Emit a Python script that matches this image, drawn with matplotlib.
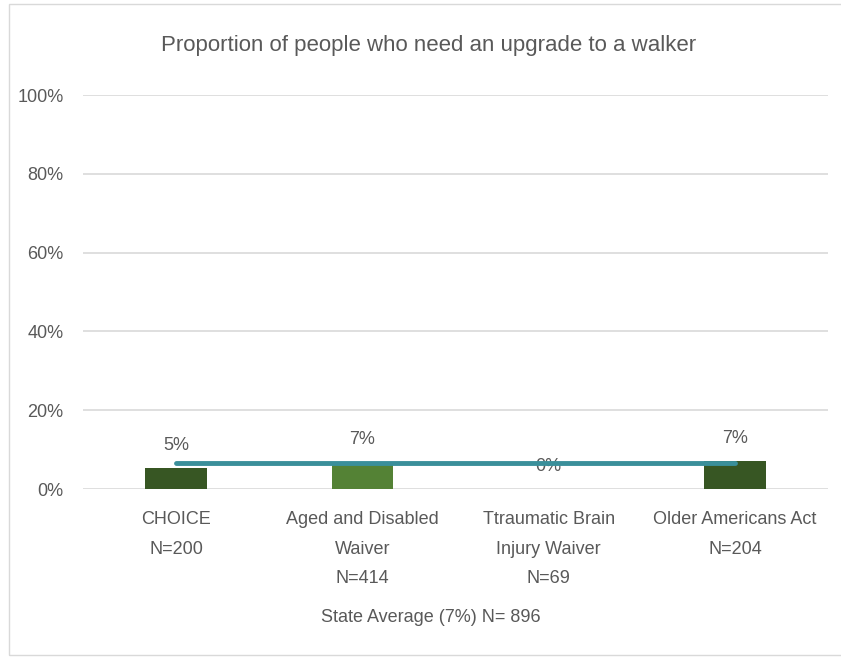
import matplotlib.pyplot as plt
from matplotlib.patches import Rectangle

plt.rcParams['font.family'] = ['Liberation Sans', 'DejaVu Sans']

categories = ["CHOICE\nN=200", "Aged and Disabled\nWaiver\nN=414",
              "Ttraumatic Brain\nInjury Waiver\nN=69", "Older Americans Act\nN=204"]
values = [0.054, 0.068, 0.0, 0.071]
labels = ["5%", "7%", "0%", "7%"]
state_avg = [0.066, 0.066, 0.066, 0.066]
bar_colors = ["#375623", "#548235", "#548235", "#375623"]
yticks = [0, 0.2, 0.4, 0.6, 0.8, 1.0]
ytick_labels = ["0%", "20%", "40%", "60%", "80%", "100%"]

txt = "#595959"
fig = plt.figure(figsize=(8.41, 6.68), dpi=100)
fig.patches.append(Rectangle((9/841, 13/668), 840/841, 651/668, transform=fig.transFigure,
                             fill=False, edgecolor="#d9d9d9", linewidth=1))
ax = fig.add_axes([83/841, (668-489)/668, 745/841, 394/668])

x = range(len(categories))
ax.bar(x, values, width=0.33, color=bar_colors, zorder=2)
ax.plot(x, state_avg, color="#3a8f9a", linewidth=3.5, solid_capstyle="round", zorder=3)
for i, v in enumerate(values):
    ax.annotate(labels[i], (i, v), xytext=(0, 10), textcoords="offset points",
                ha="center", va="bottom", fontsize=13, color=txt, zorder=1)

ax.set_xlim(-0.5, 3.5)
ax.set_ylim(0, 1)
ax.set_yticks(yticks)
ax.set_yticklabels(ytick_labels)
ax.set_xticks(list(x))
ax.set_xticklabels(categories, linespacing=1.95)
ax.tick_params(axis="both", length=0, labelsize=13, labelcolor=txt)
ax.tick_params(axis="y", pad=14)
ax.tick_params(axis="x", pad=16)
ax.grid(axis="y", color="#d9d9d9", linewidth=1.2, zorder=0)
ax.set_axisbelow(True)
for s in ax.spines.values():
    s.set_visible(False)

fig.text(428.5/841, 1 - 46/668, "Proportion of people who need an upgrade to a walker",
         ha="center", va="center", fontsize=16, color=txt)
fig.text(431/841, 1 - 617/668, "State Average (7%) N= 896",
         ha="center", va="center", fontsize=13, color=txt)

fig.savefig("out.png", dpi=100)
